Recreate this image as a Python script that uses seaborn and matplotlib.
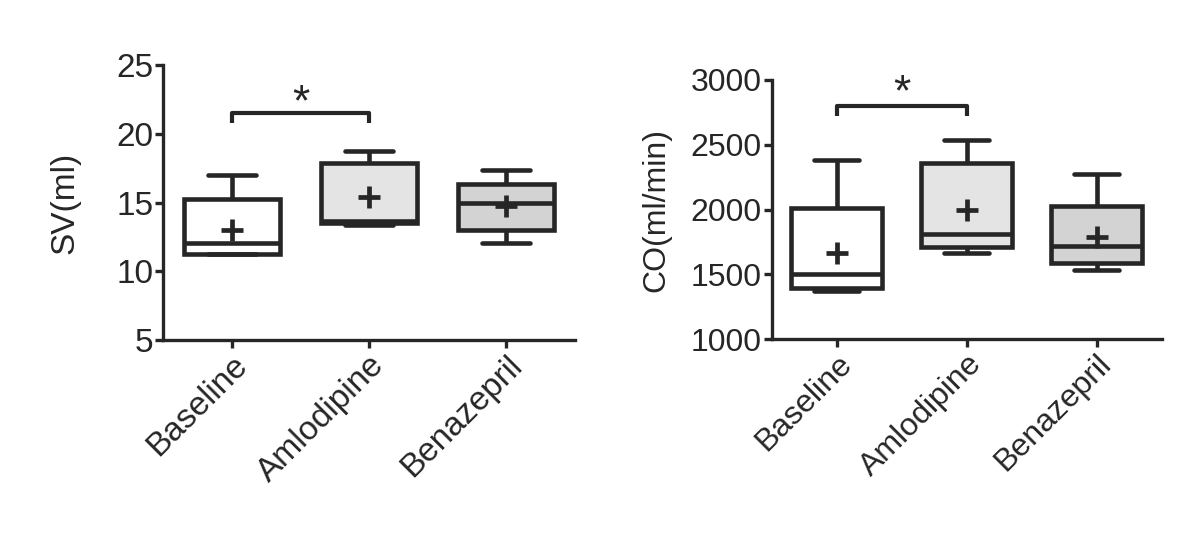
import numpy as np
import pandas as pd
import matplotlib
matplotlib.use('Agg')
import matplotlib.pyplot as plt
import seaborn as sns

sns.set_style('white')
plt.rcParams['font.family'] = ['Liberation Sans', 'DejaVu Sans']

INK = '#262626'

groups = ['Baseline', 'Amlodipine', 'Benazepril']
box_colors = ['#ffffff', '#e4e4e4', '#d3d3d3']

# SV (ml): whisker low, Q1, median, Q3, whisker high, mean
sv_low = [11.3, 13.4, 12.1]
sv_q1 = [11.3, 13.5, 13.05]
sv_med = [12.1, 13.7, 15.0]
sv_q3 = [15.25, 17.9, 16.4]
sv_high = [17.0, 18.75, 17.4]
sv_mean = [13.05, 15.4, 14.8]

# CO (ml/min)
co_low = [1374, 1668, 1534]
co_q1 = [1397, 1714, 1586]
co_med = [1500, 1812, 1722]
co_q3 = [2015, 2362, 2030]
co_high = [2383, 2537, 2272]
co_mean = [1668, 1997, 1791]

# significance bracket Baseline vs Amlodipine: top, foot, star
sv_bracket = (21.5, 20.8, 22.2)
co_bracket = (2795, 2722, 2890)


def long_form(*cols):
    rows = []
    for i, g in enumerate(groups):
        for c in cols:
            rows.append({'group': g, 'value': c[i]})
    return pd.DataFrame(rows)


def panel(ax, cols, means, bracket, ylim, yticks, ylabel, fs, labelpad):
    df = long_form(*cols)
    sns.boxplot(data=df, x='group', y='value', hue='group', order=groups,
                hue_order=groups, palette=box_colors, legend=False,
                whis=np.inf, width=0.7, linewidth=3.3, linecolor=INK,
                showcaps=True, ax=ax)
    dm = pd.DataFrame({'group': groups, 'mean': means})
    sns.pointplot(data=dm, x='group', y='mean', order=groups, linestyle='none',
                  markers='+', color=INK, markersize=16, markeredgewidth=3.4,
                  errorbar=None, ax=ax)
    # significance bracket
    top, foot, star = bracket
    ax.plot([0, 0, 1, 1], [foot, top, top, foot], color=INK, lw=3.0,
            solid_capstyle='butt', clip_on=False)
    ax.text(0.5, star, '*', ha='center', va='center', fontsize=32, color=INK)

    ax.set_xlim(-0.5, 2.5)
    ax.set_ylim(*ylim)
    ax.set_yticks(yticks)
    ax.set_xlabel('')
    ax.set_ylabel(ylabel, fontsize=fs, color=INK, labelpad=labelpad)
    for s in ['top', 'right']:
        ax.spines[s].set_visible(False)
    for s in ['left', 'bottom']:
        ax.spines[s].set_linewidth(2.4)
        ax.spines[s].set_color(INK)
    ax.tick_params(axis='both', direction='out', length=6, width=2.4,
                   color=INK, labelcolor=INK, labelsize=fs, pad=1, left=True, bottom=True)
    ax.set_xticks(range(len(groups)))
    ax.set_xticklabels(groups, rotation=45, ha='right', rotation_mode='anchor')
    ax.grid(False)


fig = plt.figure(figsize=(12, 5.4), dpi=100)
ax1 = fig.add_axes([0.136, 0.370, 0.343, 0.509])
ax2 = fig.add_axes([0.643, 0.372, 0.325, 0.480])

panel(ax1, [sv_low, sv_q1, sv_med, sv_q3, sv_high], sv_mean, sv_bracket,
      (5, 25), [5, 10, 15, 20, 25], 'SV(ml)', 24, 26)
panel(ax2, [co_low, co_q1, co_med, co_q3, co_high], co_mean, co_bracket,
      (1000, 3000), [1000, 1500, 2000, 2500, 3000], 'CO(ml/min)', 23, 14)

fig.savefig('out.png', dpi=100)
